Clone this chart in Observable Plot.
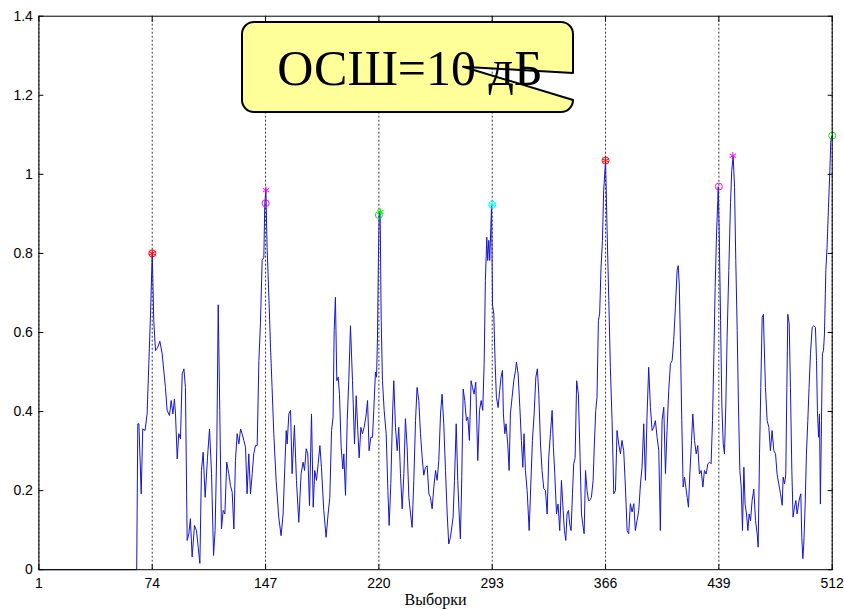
<!DOCTYPE html>
<html><head><meta charset="utf-8">
<script src="https://cdn.jsdelivr.net/npm/d3@7"></script>
<script src="https://cdn.jsdelivr.net/npm/@observablehq/plot@0.6"></script>
<style>
body{margin:0;background:#fff}
#chart{position:relative;width:844px;height:610px}
</style>
</head><body><div id="chart"></div>
<script>
// Axis tick values
const xTicks = [1, 74, 147, 220, 293, 366, 439, 512];
const yTicks = [0, 0.2, 0.4, 0.6, 0.8, 1, 1.2, 1.4];
const yTickLabels = ["0", "0.2", "0.4", "0.6", "0.8", "1", "1.2", "1.4"];

// Signal: sample index (Выборки) and amplitude
const sampleX = [
1,64,64.7,65.4,66.9,67.9,69.4,70.7,71.8,72.9,74,75,76.1,77.6,78.9,80.4,82.5,83.6,85.1,86.2,87.3,88.3,89,90.1,91.1,92.2,93.3,94.4,95.4,96.5,97.6,98.6,99.7,101.2,102.5,103.6,104.7,105.7,106.8,108.1,109.6,110.9,112.2,113.5,114.5,115.6,116.5,117.5,118.6,119.7,120.8,122,123.3,124.4,125.5,126.6,127.6,128.7,129.8,130.9,131.9,133,134.1,135.1,136.2,137.3,138.4,139.4,140.5,141.6,142.7,143.7,144.8,145.9,146.5,147.2,148,149.3,150.2,151.2,152.3,153.8,155.5,157,158.3,159.4,160.3,160.9,162,163.1,
164.1,165.6,166.9,168.4,169.9,171.2,172.1,173.2,174.2,175.3,176.6,177.7,178.7,179.8,180.9,182,183,184.5,186,187.3,188.4,189.5,190.5,191.2,192,192.9,193.8,194.6,195.7,196.8,197.4,198.5,199.6,200.6,201.7,203,204.3,205.4,206.4,207.3,208.4,209.4,210.5,211.6,212.7,213.7,214.8,215.9,216.7,217.8,218.5,219.1,219.7,220.2,220.8,221.5,222.3,223.4,224.7,225.8,226.6,227.7,228.8,229.6,230.7,231.8,232.8,233.9,235,236.1,237.1,238.2,239.3,240.4,241.4,242.5,243.6,244.6,245.7,246.8,247.9,248.9,250,251.1,252.2,253.2,254.3,255.4,256.5,257.5,258.6,259.7,260.7,261.8,262.9,264,265,
266.1,267.8,268.7,269.8,270.8,271.7,272.5,273.4,274.3,275.3,276.4,277.3,278.3,279.4,280.3,281.3,282.4,283.7,284.8,285.9,286.9,287.8,288.6,289.5,290.1,290.8,291.4,292.1,292.6,293.2,294,294.9,295.7,296.8,297.8,298.7,299.6,300.2,301.1,301.9,303,303.9,304.7,305.8,306.9,308,308.6,309.7,310.8,311.8,312.7,313.5,314.4,315.5,316.8,317.8,318.9,320,321.1,322.1,323,324.1,325.1,326.2,327.3,328.4,329.4,330.5,331.6,332.4,333.3,334.4,335.4,336.5,337.6,338.7,339.5,340.4,341.2,342.1,342.9,343.8,344.7,345.5,346.4,347.4,348.5,349.6,350.5,351.3,352.2,353.1,354.1,355,355.8,356.9,358,358.8,359.7,360.5,361.4,362.2,363.1,364,364.8,366,367,368.1,369.1,370.2,371.3,372.4,373.4,374.5,375.6,376.6,377.7,378.8,379.9,380.9,382,383.1,384.2,385.2,386.3,387.4,388.5,389.5,390.6,391.7,392.7,393.8,394.9,396,397,398.1,399.2,400.3,401.3,402.4,403.5,404.6,405.6,406.7,407.8,408.9,409.9,411,412.1,412.8,413.5,
414.3,415.1,416,416.9,417.7,418.6,419.4,420.3,421.4,422.2,423.3,424.4,425.4,426.5,427.6,428.7,429.7,430.8,431.9,433,434,434.9,435.8,436.6,437.5,438.3,438.6,439.2,440.1,440.9,441.8,442.6,443.5,444.3,445.4,446.5,447.3,448.2,449.1,449.9,450.8,451.6,452.5,453.4,454.2,455.1,455.9,456.8,457.7,458.5,459.4,460.4,461.5,462.6,463.7,464.3,465.2,466,466.9,467.7,
468,469,470.1,471.2,472.2,473.3,474.4,475.5,476.5,477.6,478.7,479.8,480.4,481.3,482.1,482.8,483.4,484.3,485.1,486,486.8,487.7,488.6,489.4,490.3,491.1,491.8,492.4,493.1,493.7,494.6,495.4,496.3,497.1,498,499.1,500.2,501.2,501.9,502.5,503.2,503.8,504.4,505.1,505.7,506.4,507,507.9,508.7,509.6,510.5,511.1,512
];
const amplitude = [
0,0,0.369,0.369,0.192,0.356,0.352,0.394,0.521,0.647,0.80,0.63,0.554,0.563,0.578,0.546,0.461,0.403,0.39,0.428,0.394,0.432,0.394,0.28,0.344,0.331,0.495,0.508,0.461,0.074,0.091,0.129,0.032,0.112,0.099,0.057,0.016,0.251,0.297,0.183,0.283,0.356,0.243,0.036,0.099,0.31,0.67,0.403,0.103,0.15,0.141,0.272,0.243,0.213,0.196,0.103,0.276,0.344,0.318,0.356,0.344,0.327,0.31,0.192,0.293,0.192,0.243,0.293,0.314,0.314,0.529,0.622,0.782,0.79,0.925,0.96,0.815,0.672,0.563,0.461,0.344,0.226,0.133,0.086,0.141,0.259,0.352,0.318,0.394,0.403,
0.243,0.365,0.226,0.12,0.243,0.272,0.251,0.306,0.293,0.162,0.394,0.158,0.251,0.226,0.268,0.314,0.259,0.15,0.082,0.141,0.183,0.352,0.386,0.605,0.689,0.478,0.487,0.444,0.31,0.255,0.293,0.188,0.377,0.478,0.617,0.478,0.318,0.44,0.352,0.283,0.36,0.344,0.36,0.386,0.428,0.301,0.335,0.335,0.403,0.5,0.487,0.588,0.79,0.9,0.905,0.63,0.478,0.403,0.344,0.2,0.112,0.218,0.394,0.478,0.36,0.301,0.36,0.243,0.154,0.243,0.382,0.31,0.183,0.141,0.107,0.226,0.377,0.461,0.428,0.344,0.283,0.239,0.259,0.263,0.192,0.183,0.154,0.209,0.251,0.226,0.276,0.394,0.444,0.369,0.251,0.141,0.065,
0.082,0.133,0.226,0.369,0.226,0.141,0.078,0.235,0.457,0.428,0.377,0.386,0.327,0.478,0.461,0.444,0.474,0.276,0.403,0.428,0.403,0.521,0.731,0.841,0.782,0.833,0.782,0.866,0.923,0.67,0.647,0.521,0.436,0.41,0.453,0.487,0.504,0.394,0.344,0.369,0.318,0.251,0.394,0.436,0.478,0.504,0.525,0.495,0.41,0.327,0.259,0.344,0.251,0.2,0.099,0.209,0.327,0.394,0.487,0.508,0.444,0.318,0.251,0.205,0.2,0.141,0.283,0.344,0.403,0.31,0.243,0.141,0.166,0.099,0.226,0.15,0.099,0.074,0.141,0.15,0.116,0.099,0.192,0.268,0.283,0.478,0.444,0.283,0.141,0.116,0.091,0.251,0.2,0.175,0.175,0.183,0.226,0.318,0.403,0.436,0.63,0.647,0.765,0.833,0.959,1.035,0.858,0.681,0.512,0.377,0.192,0.2,0.352,0.318,0.293,0.327,0.301,0.209,0.099,0.091,0.167,0.146,0.167,0.099,0.124,0.15,0.217,0.259,0.369,0.226,0.386,0.512,0.411,0.352,0.36,0.377,0.335,0.301,0.099,0.377,0.411,0.243,0.352,0.453,0.521,0.529,0.58,0.664,0.757,0.769,0.72,
0.563,0.377,0.209,0.234,0.209,0.183,0.158,0.242,0.327,0.394,0.327,0.293,0.314,0.242,0.251,0.209,0.251,0.242,0.268,0.272,0.268,0.377,0.546,0.714,0.849,0.934,0.969,0.857,0.63,0.419,0.318,0.293,0.419,0.588,0.757,0.928,1.01,1.047,0.967,0.782,0.605,0.419,0.251,0.209,0.099,0.259,0.166,0.141,0.099,0.141,0.124,0.175,0.204,0.124,0.09,0.057,0.293,0.461,0.638,0.646,
0.596,0.461,0.377,0.36,0.301,0.352,0.301,0.293,0.242,0.217,0.192,0.163,0.234,0.217,0.242,0.461,0.646,0.622,0.461,0.251,0.133,0.158,0.175,0.141,0.166,0.183,0.192,0.082,0.028,0.065,0.166,0.293,0.377,0.461,0.546,0.613,0.617,0.613,0.529,0.402,0.335,0.394,0.166,0.377,0.546,0.555,0.596,0.757,0.816,0.917,1.01,1.085,1.098
];

// Detected peaks: circles and asterisks
const circleX = [74, 147, 220, 293, 366, 439, 512];
const circleY = [0.80, 0.927, 0.897, 0.923, 1.035, 0.969, 1.098];
const circleColor = ["#ff0000", "#ff00ff", "#00ee00", "#00ffff", "#ff0000", "#ff00ff", "#00ee00"];
const starX = [74, 147.3, 221, 293, 366, 448];
const starY = [0.80, 0.96, 0.905, 0.923, 1.035, 1.047];
const starColor = ["#ff0000", "#ff00ff", "#00ee00", "#00ffff", "#ff0000", "#ff00ff"];

const calloutText = "ОСШ=10 дБ";
const xLabel = "Выборки";

const signal = sampleX.map((x, i) => ({x, y: amplitude[i]}));
const circles = circleX.map((x, i) => ({x, y: circleY[i], c: circleColor[i]}));
const stars = starX.map((x, i) => ({x, y: starY[i], c: starColor[i]}));

const plot = Plot.plot({
  width: 844,
  height: 610,
  marginLeft: 38.4,
  marginRight: 12.3,
  marginTop: 15.7,
  marginBottom: 40.8,
  style: {fontFamily: "'Liberation Sans', Arial, sans-serif", fontSize: "14px", background: "#fff", color: "#000"},
  x: {domain: [1, 512]},
  y: {domain: [0, 1.4]},
  color: {type: "identity"},
  marks: [
    Plot.gridX(xTicks, {stroke: "#000", strokeOpacity: 1, strokeWidth: 0.8, strokeDasharray: "2,2"}),
    Plot.line(signal, {x: "x", y: "y", stroke: "#1515d0", strokeWidth: 1}),
    Plot.dot(circles, {x: "x", y: "y", stroke: "c", r: 3.5, strokeWidth: 1}),
    Plot.dot(stars, {x: "x", y: "y", stroke: "c", symbol: "asterisk", r: 3.5, strokeWidth: 1}),
    Plot.frame({stroke: "#000"}),
    Plot.axisX(xTicks, {anchor: "bottom", tickSize: -5, tickPadding: 13, label: null}),
    Plot.axisX(xTicks, {anchor: "top", tickSize: -5, tickFormat: () => "", label: null}),
    Plot.axisY(yTicks, {anchor: "left", tickSize: -5, tickPadding: 11, tickFormat: (d, i) => yTickLabels[i], label: null}),
    Plot.axisY(yTicks, {anchor: "right", tickSize: -5, tickFormat: () => "", label: null}),
    Plot.text([xLabel], {frameAnchor: "bottom", lineAnchor: "middle", dy: 30, fontFamily: "'Liberation Serif', 'Times New Roman', serif", fontSize: 16, fill: "#000"})
  ]
});

// Callout annotation
const svg = d3.select(plot);
const g = svg.append("g").attr("class", "callout");
const shape = "M254,22 H561 A12,12 0 0 1 573,34 V73 L463,66.7 L573,100 A12,12 0 0 1 561,112 H254 A12,12 0 0 1 242,100 V34 A12,12 0 0 1 254,22 Z";
g.append("path").attr("d", shape).attr("fill", "#ffff99").attr("stroke", "none");
g.append("text")
  .attr("x", 410).attr("y", 85)
  .attr("text-anchor", "middle")
  .attr("font-family", "'Liberation Serif', 'Times New Roman', serif")
  .attr("font-size", 50)
  .attr("fill", "#000")
  .text(calloutText);
g.append("path").attr("d", shape).attr("fill", "none").attr("stroke", "#000").attr("stroke-width", 2).attr("stroke-linejoin", "round");

document.getElementById("chart").appendChild(plot);
</script>
</body></html>
